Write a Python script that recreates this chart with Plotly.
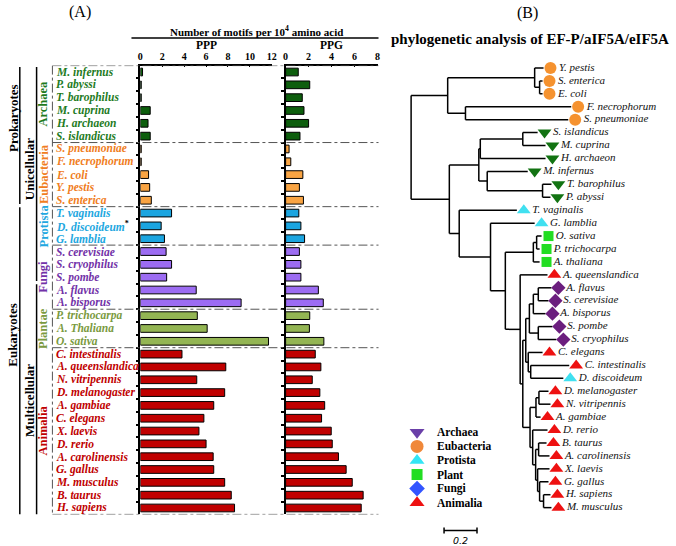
import plotly.graph_objects as go

W, H = 676, 546
SERIF = "Times New Roman, Liberation Serif, serif"

# ---------------- Panel A data ----------------
species = ["M. infernus", "P. abyssi", "T. barophilus", "M. cuprina", "H. archaeon", "S. islandicus",
           "S. pneumoniae", "F. necrophorum", "E. coli", "Y. pestis", "S. enterica",
           "T. vaginalis", "D. discoideum", "G. lamblia",
           "S. cerevisiae", "S. cryophilus", "S. pombe", "A. flavus", "A. bisporus",
           "P. trichocarpa", "A. Thaliana", "O. sativa",
           "C. intestinalis", "A. queenslandica", "N. vitripennis", "D. melanogaster", "A. gambiae",
           "C. elegans", "X. laevis", "D. rerio", "A. carolinensis", "G. gallus", "M. musculus",
           "B. taurus", "H. sapiens"]
group_names = ["Archaea", "Eubacteria", "Protista", "Fungi", "Plantae", "Animalia"]
group_sizes = [6, 5, 3, 5, 3, 13]
ppp = [0.2, 0.08, 0.08, 0.9, 0.7, 0.9,
       0.08, 0.08, 0.75, 0.85, 1.0,
       2.85, 1.9, 2.2,
       2.35, 2.85, 2.4, 5.1, 9.2,
       5.2, 6.1, 11.7,
       3.8, 7.8, 5.15, 7.7, 6.7, 5.8, 5.35, 6.0, 6.65, 6.7, 7.7, 8.3, 8.6]
ppg = [1.1, 2.1, 1.45, 1.6, 2.0, 1.25,
       0.3, 0.45, 1.5, 1.2, 1.55,
       1.15, 1.33, 1.65,
       1.2, 1.33, 1.33, 2.85, 3.28,
       2.1, 2.07, 3.33,
       2.58, 3.07, 2.32, 2.98, 3.4, 3.13, 3.97, 4.06, 4.6, 5.27, 5.8, 6.75, 6.58]
ppp_ticks = [0, 2, 4, 6, 8, 10, 12]
ppg_ticks = [0, 2, 4, 6, 8]
starred = ["D. discoideum"]
# higher-level classification spans (first row, last row)
level1 = [("Prokaryotes", 0, 10), ("Eukaryotes", 11, 34)]
level2 = [("Unicellular", 0, 16), ("Multicellular", 17, 34)]

bar_colors = {"Archaea": "#0d5e0d", "Eubacteria": "#f9a443", "Protista": "#1ba5e0",
              "Fungi": "#9c6cf2", "Plantae": "#93b553", "Animalia": "#c00000"}
label_colors = {"Archaea": "#1e7b1e", "Eubacteria": "#f07d22", "Protista": "#22a7e0",
                "Fungi": "#7232a8", "Plantae": "#7a9a40", "Animalia": "#c00000"}

# ---------------- Panel B data ----------------
newick = """(
 ((Y._pestis:0.054,(S._enterica:0.018,E._coli:0.018):0.030):0.528,
  (F._necrophorum:0.642,S._pneumoniae:0.624):0.108):0.222,
 ((((S._islandicus:0.090,M._cuprina:0.138):0.258,H._archaeon:0.396):0.009,
   (M._infernus:0.246,(T._barophilus:0.054,P._abyssi:0.048):0.336):0.051):0.179,
  (T._vaginalis:0.350,
   (G._lamblia:0.268,
    (((O._sativa:0.030,P._trichocarpa:0.018):0.020,A._thaliana:0.038):0.170,
     (A._queenslandica:0.166,
      (((((A._flavus:0.080,S._cerevisiae:0.062):0.030,A._bisporus:0.074):0.024,
         (S._pombe:0.086,S._cryophilus:0.110):0.054):0.022,
        (C._elegans:0.087,(C._intestinalis:0.234,D._discoideum:0.198):0.015):0.015):0.018,
       (((D._melanogaster:0.058,N._vitripennis:0.070):0.018,A._gambiae:0.028):0.036,
        (D._rerio:0.090,
         ((B._taurus:0.048,A._carolinensis:0.066):0.018,
          (X._laevis:0.072,(G._gallus:0.054,(H._sapiens:0.042,M._musculus:0.048):0.024):0.012):0.012
         ):0.018):0.016):0.044):0.016):0.090):0.090):0.190):0.060):0.232
);"""
leaf_group = {
    "Y. pestis": "Eubacteria", "S. enterica": "Eubacteria", "E. coli": "Eubacteria",
    "F. necrophorum": "Eubacteria", "S. pneumoniae": "Eubacteria",
    "S. islandicus": "Archaea", "M. cuprina": "Archaea", "H. archaeon": "Archaea",
    "M. infernus": "Archaea", "T. barophilus": "Archaea", "P. abyssi": "Archaea",
    "T. vaginalis": "Protista", "G. lamblia": "Protista", "D. discoideum": "Protista",
    "O. sativa": "Plant", "P. trichocarpa": "Plant", "A. thaliana": "Plant",
    "A. flavus": "Fungi", "S. cerevisiae": "Fungi", "A. bisporus": "Fungi",
    "S. pombe": "Fungi", "S. cryophilus": "Fungi",
}
tree_symbols = {"Archaea": ("triangle-down", "#127312", 12), "Eubacteria": ("circle", "#f5922f", 12),
                "Protista": ("triangle-up", "#40e0f0", 12), "Plant": ("square", "#22dd22", 10),
                "Fungi": ("diamond", "#6b1e7e", 11), "Animalia": ("triangle-up", "#ee1111", 12)}
legend_names = ["Archaea", "Eubacteria", "Protista", "Plant", "Fungi", "Animalia"]
legend_symbols = ["triangle-down", "circle", "triangle-up", "square", "diamond", "triangle-up"]
legend_colors = ["#6a3fa8", "#f0883a", "#33e5f5", "#22dd22", "#3355ff", "#ee1111"]
legend_sizes = [13, 13, 13, 11, 12, 13]
scale_bar_start = 0.2
scale_bar_len = 0.2


def px(x):
    return x / W


def py(y):
    return 1 - y / H


# ---------- build group per row ----------
groups = []
for g, n in zip(group_names, group_sizes):
    groups += [g] * n
rows = list(range(len(species)))

fig = go.Figure()

fig.add_trace(go.Bar(x=ppp, y=rows, orientation="h", width=0.6,
                     marker=dict(color=[bar_colors[g] for g in groups], line=dict(color="black", width=1)),
                     xaxis="x", yaxis="y", showlegend=False, hoverinfo="skip"))
fig.add_trace(go.Bar(x=ppg, y=rows, orientation="h", width=0.6,
                     marker=dict(color=[bar_colors[g] for g in groups], line=dict(color="black", width=1)),
                     xaxis="x2", yaxis="y2", showlegend=False, hoverinfo="skip"))

annotations = []
shapes = []

# species labels
for i, (name, g) in enumerate(zip(species, groups)):
    txt = f"<b><i>{name}</i></b>"
    if name in starred:
        txt += "<span style='color:black'><b><sup>*</sup></b></span>"
    annotations.append(dict(text=txt, xref="paper", x=px(52), xanchor="left", yref="y", y=i,
                            yanchor="middle", showarrow=False,
                            font=dict(family=SERIF, size=11.5, color=label_colors[g])))

# group vertical labels and separators
start = 0
bounds = [-0.5]
for g, n in zip(group_names, group_sizes):
    center = start + (n - 1) / 2
    annotations.append(dict(text=f"<b>{g}</b>", xref="paper", x=px(41), yref="y", y=center,
                            xanchor="center", yanchor="middle", textangle=-90, showarrow=False,
                            font=dict(family=SERIF, size=12.5, color=label_colors[g])))
    start += n
    bounds.append(start - 0.5)
for b in bounds:
    shapes.append(dict(type="line", xref="paper", x0=px(50), x1=px(380), yref="y", y0=b, y1=b,
                       line=dict(color="#555555", width=1, dash="dashdot")))
shapes.append(dict(type="line", xref="paper", x0=px(50), x1=px(50), yref="y", y0=bounds[0], y1=bounds[-1],
                   line=dict(color="#555555", width=1, dash="dashdot")))

# higher-level brackets
for (name, a, b), xl, xt, tc in [(level1[0], 17, 10, 3.6), (level1[1], 17, 10, 20.5),
                                 (level2[0], 34, 27, 7.6), (level2[1], 34, 27, 25.6)]:
    y0 = a - 0.45 if a > 0 else -0.4
    y1 = b + 0.3 if b < 34 else 34.5
    shapes.append(dict(type="line", xref="paper", x0=px(xl), x1=px(xl), yref="y", y0=y0, y1=y1,
                       line=dict(color="black", width=1.5)))
    annotations.append(dict(text=f"<b>{name}</b>", xref="paper", x=px(xt), yref="y", y=tc,
                            xanchor="center", yanchor="middle", textangle=-90, showarrow=False,
                            font=dict(family=SERIF, size=13, color="black")))


def label(text, x, y, size, **kw):
    return dict(text=text, xref="paper", yref="paper", x=px(x), y=py(y), xanchor="center",
                yanchor="middle", showarrow=False, font=dict(family=SERIF, size=size, color="black"), **kw)


# header texts
annotations += [
    label("(A)", 78, 12, 16),
    label("<b>Number of motifs per 10<sup>4</sup> amino acid</b>", 257, 31, 11),
    label("<b>PPP</b>", 206, 45, 11.5),
    label("<b>PPG</b>", 332, 45, 11.5),
    label("(B)", 531, 13, 16),
    label("<b>phylogenetic analysis of EF-P/aIF5A/eIF5A</b>", 533, 39, 15),
]
shapes.append(dict(type="line", xref="paper", yref="paper", x0=px(130), x1=px(380), y0=py(38), y1=py(38),
                   line=dict(color="black", width=1.5)))


# ---------------- tree ----------------
def parse_newick(s):
    s = "".join(s.split())
    pos = 0

    def node():
        nonlocal pos
        children = []
        if s[pos] == "(":
            pos += 1
            while True:
                children.append(node())
                if s[pos] == ",":
                    pos += 1
                    continue
                if s[pos] == ")":
                    pos += 1
                    break
        st = pos
        while pos < len(s) and s[pos] not in ",():;":
            pos += 1
        name = s[st:pos].replace("_", " ")
        length = 0.0
        if pos < len(s) and s[pos] == ":":
            pos += 1
            st = pos
            while pos < len(s) and s[pos] not in ",();":
                pos += 1
            length = float(s[st:pos])
        return {"name": name, "len": length, "children": children}

    return node()


tree = parse_newick(newick)
leaves = []


def layout(n, x0):
    n["x"] = x0 + n["len"]
    if not n["children"]:
        n["y"] = len(leaves)
        leaves.append(n)
    else:
        for c in n["children"]:
            layout(c, n["x"])
        n["y"] = (n["children"][0]["y"] + n["children"][-1]["y"]) / 2


layout(tree, 0.0)
lx, ly = [], []


def collect(n):
    if n["children"]:
        ys = [c["y"] for c in n["children"]]
        lx.extend([n["x"], n["x"], None])
        ly.extend([min(ys), max(ys), None])
        for c in n["children"]:
            lx.extend([n["x"], c["x"], None])
            ly.extend([c["y"], c["y"], None])
            collect(c)


collect(tree)
fig.add_trace(go.Scatter(x=lx, y=ly, mode="lines", line=dict(color="black", width=1.5),
                         xaxis="x3", yaxis="y3", showlegend=False, hoverinfo="skip"))

MARK_OFF = 0.042
for g, (sym, col, sz) in tree_symbols.items():
    lv = [l for l in leaves if leaf_group.get(l["name"], "Animalia") == g]
    fig.add_trace(go.Scatter(
        x=[l["x"] + MARK_OFF for l in lv], y=[l["y"] for l in lv],
        mode="markers+text", text=[f"<i>{l['name']}</i>" for l in lv], textposition="middle right",
        textfont=dict(family=SERIF, size=11, color="#111111"),
        marker=dict(symbol=sym, color=col, size=sz, opacity=1, line=dict(width=0)),
        cliponaxis=False, xaxis="x3", yaxis="y3", showlegend=False, hoverinfo="skip"))

# legend
fig.add_trace(go.Scatter(x=[0] * len(legend_names), y=list(range(len(legend_names))), mode="markers",
                         marker=dict(symbol=legend_symbols, color=legend_colors, size=legend_sizes,
                                     opacity=1, line=dict(width=0)),
                         cliponaxis=False, xaxis="x4", yaxis="y4", showlegend=False, hoverinfo="skip"))
for k, name in enumerate(legend_names):
    annotations.append(dict(text=f"<b>{name}</b>", xref="paper", x=px(437), xanchor="left",
                            yref="y4", y=k, yanchor="middle", showarrow=False,
                            font=dict(family=SERIF, size=11.5, color="black")))

# scale bar
sb0, sb1 = scale_bar_start, scale_bar_start + scale_bar_len
shapes += [
    dict(type="line", xref="x3", yref="paper", x0=sb0, x1=sb1, y0=py(530.5), y1=py(530.5),
         line=dict(color="black", width=1.5)),
    dict(type="line", xref="x3", yref="paper", x0=sb0, x1=sb0, y0=py(527.5), y1=py(533.5),
         line=dict(color="black", width=1.5)),
    dict(type="line", xref="x3", yref="paper", x0=sb1, x1=sb1, y0=py(527.5), y1=py(533.5),
         line=dict(color="black", width=1.5)),
]
annotations.append(dict(text=f"<i>{scale_bar_len}</i>", xref="x3", x=(sb0 + sb1) / 2, yref="paper",
                        y=py(540), xanchor="center", yanchor="middle", showarrow=False,
                        font=dict(family="DejaVu Sans, sans-serif", size=9.5, color="black")))

# ---------------- axes ----------------
PX_PER_UNIT = 166.7
ROOT_PX = 413
tick_font = dict(family=SERIF, size=10, color="black", weight="bold")
ybar = dict(range=[34.5, -0.5], domain=[py(514.4), py(65.6)], showline=True, linecolor="black",
            linewidth=1.5, ticks="outside", ticklen=3, tickwidth=1.5, tickcolor="black",
            tickvals=[i + 0.5 for i in rows[:-1]], showticklabels=False, showgrid=False, zeroline=False)
xbar = dict(side="top", showline=True, linecolor="black", linewidth=1.5, ticks="inside", ticklen=2,
            tickwidth=1, tickcolor="black", showgrid=False, zeroline=False, tickfont=tick_font)

fig.update_layout(
    width=W, height=H, margin=dict(l=0, r=0, t=0, b=0),
    paper_bgcolor="white", plot_bgcolor="rgba(0,0,0,0)",
    xaxis=dict(xbar, domain=[px(139), px(272)], range=[0, 12], tickvals=ppp_ticks, anchor="y"),
    yaxis=dict(ybar, anchor="x"),
    xaxis2=dict(xbar, domain=[px(286), px(379)], range=[0, 8], tickvals=ppg_ticks, anchor="y2"),
    yaxis2=dict(ybar, anchor="x2"),
    xaxis3=dict(domain=[px(380), 1.0], range=[(380 - ROOT_PX) / PX_PER_UNIT, (676 - ROOT_PX) / PX_PER_UNIT],
                visible=False, anchor="y3"),
    yaxis3=dict(domain=[py(514.1), py(61.5)], range=[34.5, -0.5], visible=False, anchor="x3"),
    xaxis4=dict(domain=[px(412), px(426)], range=[-1, 1], visible=False, anchor="y4"),
    yaxis4=dict(domain=[py(509.7), py(425.3)], range=[5.5, -0.5], visible=False, anchor="x4"),
    annotations=annotations, shapes=shapes, bargap=0.4,
)

fig.write_html("out.html", config={"displayModeBar": False},
               post_script="document.body.style.margin='0px';")
